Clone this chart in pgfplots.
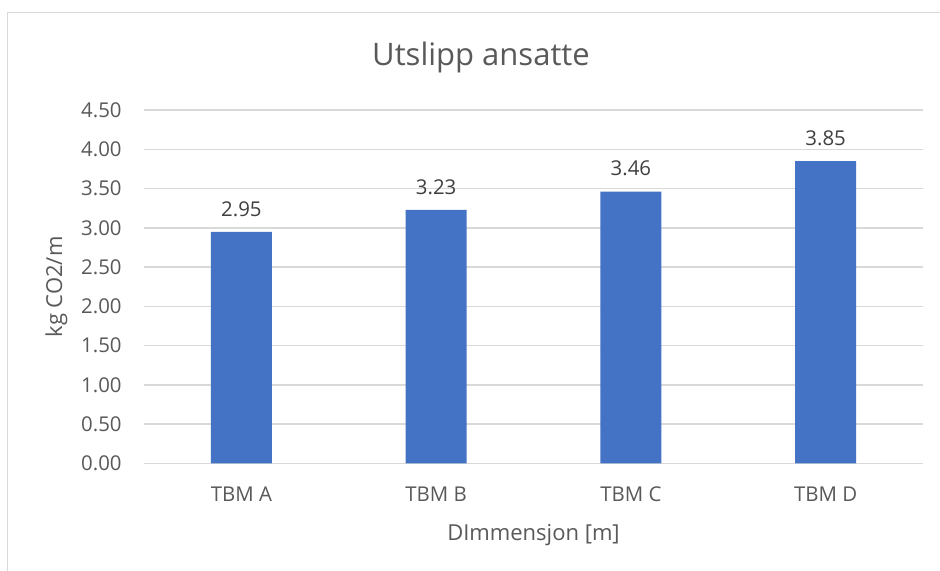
\documentclass[border=0pt]{standalone}
\usepackage{fontspec}
\setmainfont{Open Sans}
\usepackage{pgfplots}
\pgfplotsset{compat=1.18}
\definecolor{barblue}{HTML}{4472C4}
\definecolor{txtgray}{HTML}{595959}
\definecolor{lblgray}{HTML}{404040}
\definecolor{gridgray}{HTML}{D9D9D9}
\begin{document}
\begin{tikzpicture}
% canvas: 1 px of the reference = 0.5pt
\useasboundingbox (0,0) rectangle (470pt,285.5pt);
\fill[white] (0,0) rectangle (470pt,285.5pt);
\draw[gridgray, line width=0.75pt] (3.75pt,0) -- (3.75pt,279.25pt) -- (470pt,279.25pt);

\begin{axis}[
  at={(72pt,53.75pt)}, anchor=south west,
  scale only axis, width=389.5pt, height=176.75pt,
  ybar, bar width=30.5pt,
  xmin=-0.5, xmax=3.5, ymin=0, ymax=4.5,
  xtick={0,1,2,3},
  xticklabels={TBM A,TBM B,TBM C,TBM D},
  ytick={0,0.5,...,4.5},
  axis line style={draw=none},
  major tick length=0pt,
  ymajorgrids, grid style={draw=gridgray, line width=0.75pt},
  /pgf/number format/assume math mode=true,
  every tick label/.append style={font=\fontsize{10.2}{12}\selectfont, text=txtgray, inner sep=0pt},
  yticklabel style={anchor=east, xshift=-11pt,
    /pgf/number format/fixed, /pgf/number format/fixed zerofill,
    /pgf/number format/precision=2},
  xticklabel style={anchor=north, yshift=-11.5pt},
  nodes near coords,
  nodes near coords style={font=\fontsize{10.2}{12}\selectfont, text=lblgray, inner sep=0pt,
    anchor=south, yshift=7.5pt,
    /pgf/number format/fixed, /pgf/number format/fixed zerofill,
    /pgf/number format/precision=2},
  clip=false,
]
\addplot[fill=barblue, draw=none, bar shift=0pt]
  coordinates {(0,2.95) (1,3.23) (2,3.46) (3,3.85)};
\end{axis}

\node[anchor=base, font=\fontsize{15.5}{18}\selectfont, text=txtgray]
  at (240.5pt,252.5pt) {Utslipp ansatte};
\node[anchor=base, font=\fontsize{11}{13}\selectfont, text=txtgray]
  at (266.75pt,15pt) {DImmensjon [m]};
\node[anchor=base, rotate=90, font=\fontsize{11}{13}\selectfont, text=txtgray]
  at (31pt,142pt) {kg CO2/m};
\end{tikzpicture}
\end{document}
